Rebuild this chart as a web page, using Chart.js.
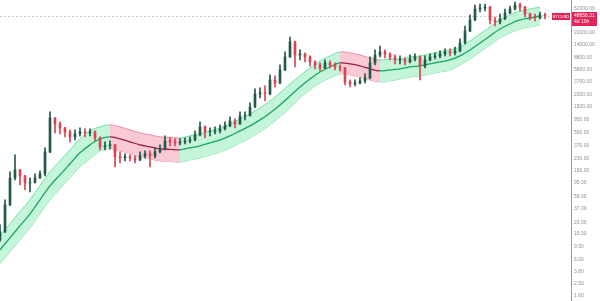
<!DOCTYPE html>
<html>
<head>
<meta charset="utf-8">
<script src="https://cdn.jsdelivr.net/npm/chart.js@4.4.0/dist/chart.umd.min.js"></script>
<style>
  html, body { margin: 0; padding: 0; background: #fff; }
</style>
</head>
<body>
<canvas id="chart" width="600" height="301"></canvas>
<script>
// candles (log price), one per step on the x axis
const firstOpen = 12.2;
const closes = [
  16.3, 43.2, 114, 153, 123, 95.5, 97, 114, 132, 292,
  998, 804, 696, 602, 502, 560, 602, 580, 602, 484,
  351, 364, 377, 245, 236, 245, 236, 219, 254, 273,
  254, 292, 326, 435, 420, 404, 420, 435, 451, 540,
  722, 602, 610, 624, 671, 748, 896, 804, 1073, 1090,
  1486, 2376, 2463, 2376, 3937, 3531, 5649, 9033, 15526, 9710,
  10069, 9033, 7540, 6766, 6068, 7269, 6766, 6294, 6068, 3662,
  3409, 3531, 3797, 4232, 7269, 9710, 10819, 10069, 9033, 8105,
  8300, 7540, 8405, 9033, 6525, 8105, 9033, 9364, 10069, 10819,
  10438, 11215, 14975, 23086, 34350, 51124, 53000, 54970, 34350, 31953,
  35621, 44236, 51124, 59000, 54970, 42673, 38279, 37400, 41150, 39682
];
const highs = [
  21.0, 51.8, 142, 263, 153, 125, 114, 132, 148, 338,
  1240, 1010, 864, 710, 647, 647, 696, 671, 671, 624,
  502, 420, 435, 385, 292, 273, 263, 254, 292, 303,
  303, 338, 377, 521, 484, 468, 468, 484, 502, 624,
  864, 748, 696, 722, 776, 864, 1035, 963, 1240, 1240,
  1717, 2846, 2950, 3170, 4716, 4548, 6766, 10819, 18595, 16000,
  11630, 10438, 9364, 7816, 7269, 8105, 7816, 7269, 6766, 6200,
  3937, 3937, 4232, 4890, 9033, 11630, 13433, 11630, 10438, 9710,
  9364, 8709, 9710, 10069, 9364, 9364, 10069, 10438, 11215, 12060,
  12060, 12958, 17308, 27657, 41150, 59000, 61183, 61183, 56000, 38279,
  42673, 51124, 56895, 65767, 63425, 56000, 44236, 42673, 45860, 44236
];
const lows = [
  11.5, 15.8, 42, 106.5, 88.9, 74.3, 69.1, 94, 112, 123,
  285, 580, 560, 502, 420, 451, 521, 502, 521, 435,
  314, 314, 326, 170, 196, 211, 211, 196, 212, 236,
  170, 236, 282, 314, 364, 364, 377, 391, 404, 435,
  521, 484, 521, 560, 580, 647, 730, 696, 790, 929,
  1060, 1450, 2055, 1844, 2300, 3058, 3450, 5500, 8900, 6294,
  8105, 7540, 6525, 5858, 5447, 5900, 6068, 5649, 5447, 3287,
  3058, 3170, 3409, 3531, 4083, 6766, 9033, 8709, 8105, 7016,
  7016, 6766, 7269, 7816, 3937, 6068, 7816, 8405, 8709, 9364,
  9364, 9710, 10819, 14500, 22500, 33500, 45860, 47541, 29741, 27657,
  29741, 34800, 43000, 49500, 47541, 38279, 34350, 33124, 35621, 35621
];

// trend band: middle line and envelope, one point every second candle
const bandStep = 2;
const bandMid = [
  8.52, 13.1, 20.3, 31.2, 51.8, 85.7, 127.6, 190, 283, 377,
  468, 502, 468, 420, 377, 351, 326, 320, 314, 338,
  364, 405, 451, 521, 624, 748, 929, 1196, 1597, 2209,
  3058, 4083, 5255, 6294, 7269, 7016, 6525, 5858, 5447, 5649,
  5858, 6294, 6525, 7016, 7540, 8105, 9364, 11630, 14975, 19277,
  24826, 29741, 34350, 36906, 39682
];
const bandTop = [
  14.1, 21.7, 33.7, 51.8, 85.9, 142, 212, 315, 469, 625,
  722, 775, 722, 648, 582, 542, 503, 494, 484, 522,
  562, 625, 696, 804, 963, 1154, 1433, 1845, 2464, 3408,
  4550, 6075, 7819, 9365, 10816, 10440, 9709, 8717, 8105, 8406,
  8406, 9032, 9363, 10068, 10820, 11631, 12960, 16096, 20725, 26680,
  34359, 41162, 47540, 51078, 54920
];
const bandBottom = [
  5.14, 7.90, 12.2, 18.8, 31.2, 51.7, 76.9, 115, 171, 227,
  303, 325, 303, 272, 244, 227, 211, 207, 203, 219,
  236, 262, 292, 338, 404, 485, 602, 775, 1035, 1432,
  2055, 2744, 3532, 4230, 4885, 4715, 4385, 3937, 3661, 3796,
  4082, 4386, 4547, 4889, 5254, 5648, 6766, 8403, 10820, 13929,
  17938, 21489, 24819, 26666, 28672
];

const priceTicks = [1.6, 2.5, 3.8, 6, 9.5, 15, 23, 37, 59, 95, 150, 230, 370, 590,
  950, 1500, 2300, 3700, 5800, 8800, 14000, 22000, 52000];
const symbolText = 'BTCUSD';
const lastPriceText = '48656.21';
const countdownText = '4d 10h';

const opens = closes.map((c, i) => i === 0 ? firstOpen : closes[i - 1]);

const UP = '#235a47';
const DOWN = '#d64553';
const candleColor = ctx => closes[ctx.dataIndex] >= opens[ctx.dataIndex] ? UP : DOWN;

// band turns red while its middle line is falling
const midFalling = i => bandMid[i + 1] < bandMid[i];
const bySlope = (red, green) => ctx => midFalling(ctx.p0DataIndex) ? red : green;
const bandPoints = arr => arr.map((v, i) => ({ x: i * bandStep, y: v }));

const priceTag = {
  id: 'priceTag',
  beforeDatasetsDraw(chart) {
    const { ctx, chartArea, scales: { y } } = chart;
    const py = Math.round(y.getPixelForValue(closes[closes.length - 1])) + 0.5;
    ctx.save();
    ctx.strokeStyle = '#cccccc';
    ctx.lineWidth = 1;
    ctx.setLineDash([2, 2]);
    ctx.beginPath();
    ctx.moveTo(chartArea.left, py);
    ctx.lineTo(chartArea.right, py);
    ctx.stroke();
    ctx.restore();
  },
  afterDraw(chart) {
    const { ctx, chartArea, scales: { y } } = chart;
    const py = Math.round(y.getPixelForValue(closes[closes.length - 1]));
    ctx.save();
    ctx.fillStyle = '#e3245a';
    ctx.fillRect(chartArea.right - 19, py - 3, 18, 7);
    ctx.fillRect(chartArea.right + 1, py - 4, 25, 14);
    ctx.fillStyle = '#fff';
    ctx.font = '4px "Liberation Sans"';
    ctx.textBaseline = 'middle';
    ctx.textAlign = 'center';
    ctx.fillText(symbolText, chartArea.right - 10, py + 0.5);
    ctx.font = '5px "Liberation Sans"';
    ctx.textAlign = 'left';
    ctx.fillText(lastPriceText, chartArea.right + 3, py);
    ctx.fillText(countdownText, chartArea.right + 3, py + 6);
    ctx.restore();
  }
};

new Chart(document.getElementById('chart'), {
  type: 'line',
  data: {
    datasets: [
      {
        type: 'bar',
        data: closes.map((c, i) => ({ x: i, y: [opens[i], c] })),
        backgroundColor: candleColor,
        barThickness: 2,
        grouped: false,
        order: 0
      },
      {
        type: 'bar',
        data: lows.map((l, i) => ({ x: i, y: [l, highs[i]] })),
        backgroundColor: candleColor,
        barThickness: 1,
        grouped: false,
        order: 1
      },
      {
        data: bandPoints(bandMid),
        borderWidth: 1.3,
        pointRadius: 0,
        tension: 0.4,
        fill: false,
        segment: { borderColor: bySlope('#9c1d40', '#17a85e') },
        order: 2
      },
      {
        data: bandPoints(bandTop),
        borderWidth: 1,
        pointRadius: 0,
        tension: 0.4,
        fill: '+1',
        segment: {
          borderColor: bySlope('#f08aa5', '#6be3a1'),
          backgroundColor: bySlope('#f9c9d6', '#c4f4da')
        },
        order: 3
      },
      {
        data: bandPoints(bandBottom),
        borderWidth: 1,
        pointRadius: 0,
        tension: 0.4,
        fill: false,
        segment: { borderColor: bySlope('#f08aa5', '#6be3a1') },
        order: 3
      }
    ]
  },
  options: {
    responsive: false,
    animation: false,
    devicePixelRatio: 1,
    layout: { padding: 0 },
    plugins: { legend: { display: false }, tooltip: { enabled: false } },
    scales: {
      x: { type: 'linear', display: false, min: 0, max: 114.2, offset: false },
      y: {
        type: 'logarithmic',
        position: 'right',
        min: 1.336,
        max: 70700,
        afterBuildTicks: s => { s.ticks = priceTicks.map(v => ({ value: v })); },
        afterFit: s => { s.width = 29; s.paddingTop = 0; s.paddingBottom = 0; },
        ticks: {
          autoSkip: false,
          padding: 3,
          color: '#8f8f8f',
          font: { size: 5, family: 'Liberation Sans' },
          callback: v => Number(v).toFixed(2)
        },
        grid: { display: false, drawTicks: false },
        border: { display: true, color: '#9a9a9a', width: 1 }
      }
    }
  },
  plugins: [priceTag]
});
</script>
</body>
</html>
